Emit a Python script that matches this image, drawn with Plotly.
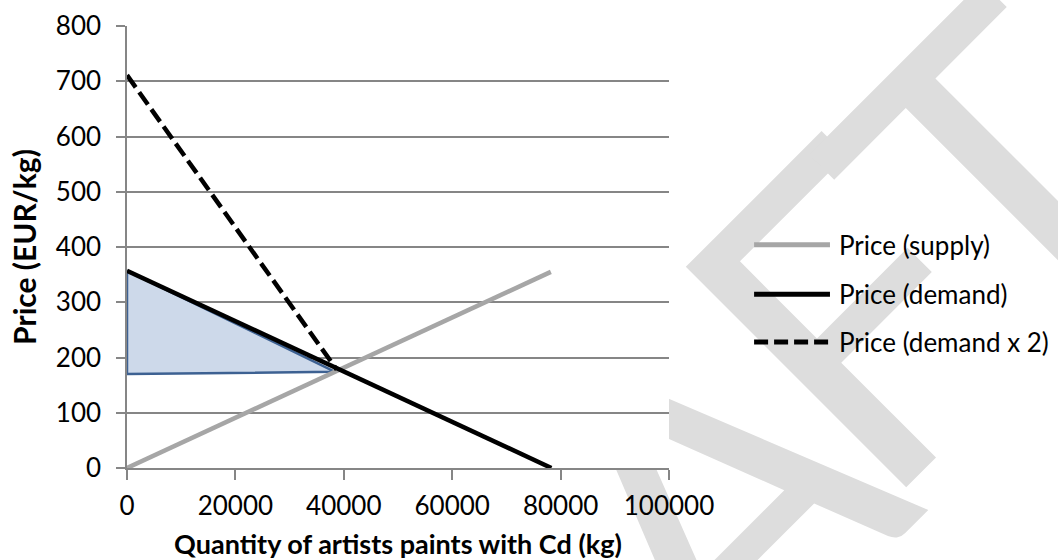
import plotly.graph_objects as go

# ---------------- data ----------------
x_tick_vals = [0, 20000, 40000, 60000, 80000, 100000]
x_tick_text = ["0", "20000", "40000", "60000", "80000", "100000"]
y_tick_vals = [0, 100, 200, 300, 400, 500, 600, 700, 800]

supply_q = [0, 78200]
supply_p = [0, 355]

demand_q = [0, 78300]
demand_p = [357, 0]

demand2_q = [0, 38700]
demand2_p = [711, 178]

surplus_q = [0, 38400, 0, 0]
surplus_p = [357, 174, 170, 357]

series_names = ["Price (supply)", "Price (demand)", "Price (demand x 2)"]
watermark_letters = ["A", "F", "T"]

# ---------------- styles ----------------
FONT = "Lato"
GRID = "#868686"
SUPPLY_COLOR = "#a6a6a6"
DEMAND_COLOR = "#000000"
WM_COLOR = "#dddddd"

fig = go.Figure()

fig.add_trace(go.Scatter(
    x=surplus_q, y=surplus_p, mode="lines", fill="toself",
    fillcolor="#cdd9ea", line=dict(color="#3d6192", width=2.5),
    showlegend=False, hoverinfo="skip", name="surplus"))

fig.add_trace(go.Scatter(
    x=supply_q, y=supply_p, mode="lines", name=series_names[0],
    line=dict(color=SUPPLY_COLOR, width=4.5), showlegend=False))

fig.add_trace(go.Scatter(
    x=demand_q, y=demand_p, mode="lines", name=series_names[1],
    line=dict(color=DEMAND_COLOR, width=4.5), showlegend=False))

fig.add_trace(go.Scatter(
    x=demand2_q, y=demand2_p, mode="lines", name=series_names[2],
    line=dict(color=DEMAND_COLOR, width=4.5, dash="15px,6px"), showlegend=False))

shapes = []
# watermark letters (drawn beneath the chart)
wm_pos = [(1.061, -0.050), (1.3745 - 30 / 542, 0.334 + 15 / 442), (1.660 - 34 / 542, 0.684)]
for letter, (px, py) in zip(watermark_letters, wm_pos):
    shapes.append(dict(
        type="rect", xref="paper", yref="paper",
        x0=px - 0.005, x1=px + 0.005, y0=py - 0.005, y1=py + 0.005,
        line=dict(width=0), fillcolor="rgba(0,0,0,0)", layer="below",
        label=dict(text=letter, textangle=-45, textposition="middle center",
                   font=dict(family=FONT, size=435, color=WM_COLOR))))
# white plot area covering the watermark
shapes.append(dict(type="rect", xref="x domain", yref="y domain",
                   x0=0, x1=1, y0=0, y1=1, fillcolor="white",
                   line=dict(width=0), layer="below"))

# custom legend
leg_y = [0.505, 0.393, 0.285]
leg_styles = [dict(color=SUPPLY_COLOR, width=5),
              dict(color=DEMAND_COLOR, width=5),
              dict(color=DEMAND_COLOR, width=5, dash="14px,6px")]
annotations = []
for name, yy, st in zip(series_names, leg_y, leg_styles):
    shapes.append(dict(type="line", xref="paper", yref="paper",
                       x0=1.157, x1=1.297, y0=yy, y1=yy, line=st, layer="above"))
    annotations.append(dict(text=name, xref="paper", yref="paper", x=1.310, y=yy,
                            xanchor="left", yanchor="middle", showarrow=False,
                            font=dict(family=FONT, size=26, color="black")))

fig.update_layout(
    width=1058, height=560,
    margin=dict(l=127, r=389, t=26, b=92, pad=0, autoexpand=False),
    paper_bgcolor="white", plot_bgcolor="white",
    font=dict(family=FONT, color="black"),
    shapes=shapes, annotations=annotations,
    showlegend=False,
)

fig.update_xaxes(
    range=[0, 100000], tickvals=x_tick_vals, ticktext=x_tick_text, automargin=False,
    showgrid=False, zeroline=False, showline=True, linecolor=GRID, linewidth=1.5,
    ticks="outside", ticklen=10, tickwidth=1.5, tickcolor=GRID,
    tickfont=dict(family=FONT, size=26, color="black"), ticklabelstandoff=4,
    title=dict(text="<b>Quantity of artists paints with Cd (kg)</b>", standoff=17,
               font=dict(family=FONT, size=27, color="black")),
)
fig.update_yaxes(
    range=[0, 800], tickvals=y_tick_vals, automargin=False,
    showgrid=True, gridcolor=GRID, gridwidth=1.5,
    zeroline=False, showline=True, linecolor=GRID, linewidth=1.5,
    ticks="outside", ticklen=9, tickwidth=1.5, tickcolor=GRID,
    tickfont=dict(family=FONT, size=26, color="black"), ticklabelstandoff=10,
    title=dict(text="<b>Price (EUR/kg)</b>", standoff=10,
               font=dict(family=FONT, size=30, color="black")),
)

fig.write_html("out.html")
